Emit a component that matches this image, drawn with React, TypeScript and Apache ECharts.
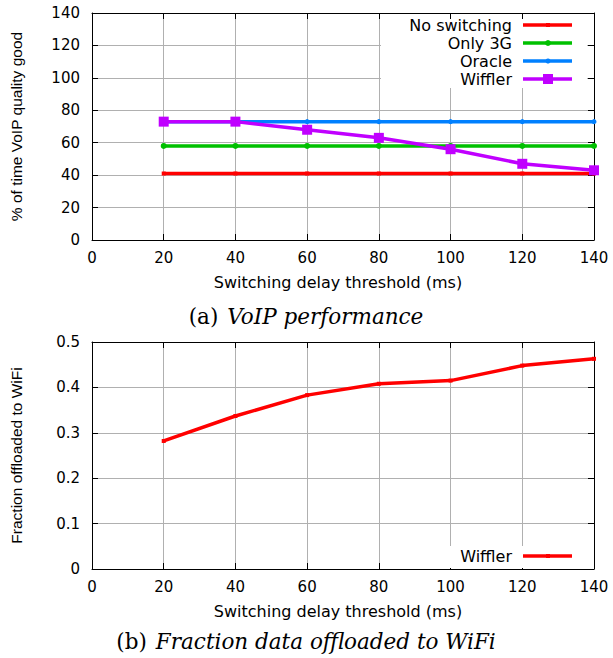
import React, { useEffect, useRef } from "react";
import * as echarts from "echarts";

// ---------- data ----------
const thresholds = [20, 40, 60, 80, 100, 120, 140];
const noSwitching = [41, 41, 41, 41, 41, 41, 41];
const only3G = [58, 58, 58, 58, 58, 58, 58];
const oracle = [73, 73, 73, 73, 73, 73, 73];
const wifflerVoip = [73, 73, 68, 63, 56, 47, 43];
const wifflerOffload = [0.282, 0.337, 0.383, 0.408, 0.415, 0.448, 0.463];
const topSeriesNames = ["No switching", "Only 3G", "Oracle", "Wiffler"];
const bottomSeriesNames = ["Wiffler"];
const xAxisTitle = "Switching delay threshold (ms)";
const yTitleTop = "% of time VoIP quality good";
const yTitleBottom = "Fraction offloaded to WiFi";

// ---------- styles ----------
const RED = "#ff0000";
const GREEN = "#00c000";
const BLUE = "#0080ff";
const PURPLE = "#c000ff";
const GRIDC = "#b0b0b0";
const SANS = "DejaVu Sans";
const SANS2 = "Liberation Sans";
const SERIF = "DejaVu Serif";
const LW = 3.5;

const pairs = (ys: number[]) => thresholds.map((x, i) => [x, ys[i]]);

function xAxes(gridIndex: number) {
  return [
    {
      type: "value",
      gridIndex,
      position: "bottom",
      min: 0,
      max: 140,
      interval: 20,
      axisLine: { show: true, onZero: false, lineStyle: { color: "#000", width: 1 } },
      axisTick: { show: true, inside: true, length: 6, lineStyle: { color: "#000" } },
      axisLabel: { margin: 10, color: "#000", fontFamily: SANS, fontSize: 15 },
      splitLine: { show: true, showMinLine: false, showMaxLine: false, lineStyle: { color: GRIDC, width: 1 } },
      name: xAxisTitle,
      nameLocation: "middle",
      nameGap: 34,
      nameTextStyle: { color: "#000", fontFamily: SANS, fontSize: 16, padding: [0, 10, 0, 0] },
    },
    {
      type: "value",
      gridIndex,
      position: "top",
      min: 0,
      max: 140,
      interval: 20,
      axisLine: { show: true, onZero: false, lineStyle: { color: "#000", width: 1 } },
      axisTick: { show: true, inside: true, length: 6, lineStyle: { color: "#000" } },
      axisLabel: { show: false },
      splitLine: { show: false },
    },
  ];
}

function yAxes(gridIndex: number, max: number, interval: number, title: string, gap: number) {
  return [
    {
      type: "value",
      gridIndex,
      position: "left",
      min: 0,
      max,
      interval,
      axisLine: { show: true, onZero: false, lineStyle: { color: "#000", width: 1 } },
      axisTick: { show: true, inside: true, length: 6, lineStyle: { color: "#000" } },
      axisLabel: { margin: 12, color: "#000", fontFamily: SANS, fontSize: 15 },
      splitLine: { show: true, showMinLine: false, showMaxLine: false, lineStyle: { color: GRIDC, width: 1 } },
      name: title,
      nameLocation: "middle",
      nameGap: gap,
      nameTextStyle: { color: "#000", fontFamily: SANS2, fontSize: 15.5 },
    },
    {
      type: "value",
      gridIndex,
      position: "right",
      min: 0,
      max,
      interval,
      axisLine: { show: true, onZero: false, lineStyle: { color: "#000", width: 1 } },
      axisTick: { show: true, inside: true, length: 6, lineStyle: { color: "#000" } },
      axisLabel: { show: false },
      splitLine: { show: false },
    },
  ];
}

function legendRow(name: string, cy: number, color: string, marker: any) {
  return [
    {
      type: "text",
      z: 20,
      x: 512,
      y: cy,
      style: { text: name, align: "right", verticalAlign: "middle", fontFamily: SANS, fontSize: 16, fill: "#000" },
    },
    {
      type: "line",
      z: 20,
      shape: { x1: 523, y1: cy, x2: 572, y2: cy },
      style: { stroke: color, lineWidth: LW },
    },
    { ...marker, z: 21 },
  ];
}

function caption(label: string, text: string, y: number) {
  return {
    type: "text",
    x: 306,
    y,
    style: {
      text: `{u|${label}}{i|${text}}`,
      align: "center",
      verticalAlign: "middle",
      fill: "#000",
      rich: {
        u: { fontFamily: SERIF, fontSize: 21.5, fill: "#000", padding: [0, 9, 0, 0] },
        i: { fontFamily: SERIF, fontSize: 21.5, fontStyle: "italic", fill: "#000" },
      },
    },
  };
}

function App() {
  const ref = useRef<HTMLDivElement>(null);
  useEffect(() => {
    if (!ref.current) return;
    const chart = echarts.init(ref.current, undefined, { renderer: "svg" });
    const topColors = [RED, GREEN, BLUE, PURPLE];
    const topData = [noSwitching, only3G, oracle, wifflerVoip];
    const topSymbols = ["rect", "circle", "circle", "rect"];
    const topSizes = [4, 6, 5, 10];
    const series: any[] = topSeriesNames.map((name, i) => ({
      name,
      type: "line",
      xAxisIndex: 0,
      yAxisIndex: 0,
      data: pairs(topData[i]),
      symbol: topSymbols[i],
      symbolSize: topSizes[i],
      showSymbol: true,
      lineStyle: { color: topColors[i], width: LW },
      itemStyle: { color: topColors[i] },
      z: 2 + i,
    }));
    series.push({
      name: bottomSeriesNames[0],
      type: "line",
      xAxisIndex: 2,
      yAxisIndex: 2,
      data: pairs(wifflerOffload),
      symbol: "rect",
      symbolSize: 4,
      lineStyle: { color: RED, width: LW },
      itemStyle: { color: RED },
    });

    const graphic: any[] = [
      { type: "rect", z: 15, shape: { x: 381, y: 19, width: 206, height: 69 }, style: { fill: "#fff" } },
      ...legendRow(topSeriesNames[0], 25, RED, { type: "rect", shape: { x: 546, y: 23, width: 4, height: 4 }, style: { fill: RED } }),
      ...legendRow(topSeriesNames[1], 43, GREEN, { type: "circle", shape: { cx: 548, cy: 43, r: 3 }, style: { fill: GREEN } }),
      ...legendRow(topSeriesNames[2], 61, BLUE, { type: "circle", shape: { cx: 548, cy: 61, r: 2.5 }, style: { fill: BLUE } }),
      ...legendRow(topSeriesNames[3], 79, PURPLE, { type: "rect", shape: { x: 543, y: 74, width: 10, height: 10 }, style: { fill: PURPLE } }),
      { type: "rect", z: 15, shape: { x: 447, y: 546, width: 140, height: 22 }, style: { fill: "#fff" } },
      ...legendRow(bottomSeriesNames[0], 556, RED, { type: "rect", shape: { x: 546, y: 554, width: 4, height: 4 }, style: { fill: RED } }),
      caption("(a)", "VoIP performance", 316),
      caption("(b)", "Fraction data offloaded to WiFi", 641),
    ];

    chart.setOption({
      animation: false,
      backgroundColor: "#fff",
      grid: [
        { left: 92, top: 13, width: 502, height: 227, containLabel: false },
        { left: 92, top: 342, width: 502, height: 227, containLabel: false },
      ],
      xAxis: [...xAxes(0), ...xAxes(1)],
      yAxis: [...yAxes(0, 140, 20, yTitleTop, 68), ...yAxes(1, 0.5, 0.1, yTitleBottom, 68)],
      series,
      graphic,
    });
    return () => chart.dispose();
  }, []);
  return (
    <div
      ref={ref}
      style={{ position: "fixed", left: 0, top: 0, width: 613, height: 658, background: "#fff" }}
    />
  );
}

export default App;
